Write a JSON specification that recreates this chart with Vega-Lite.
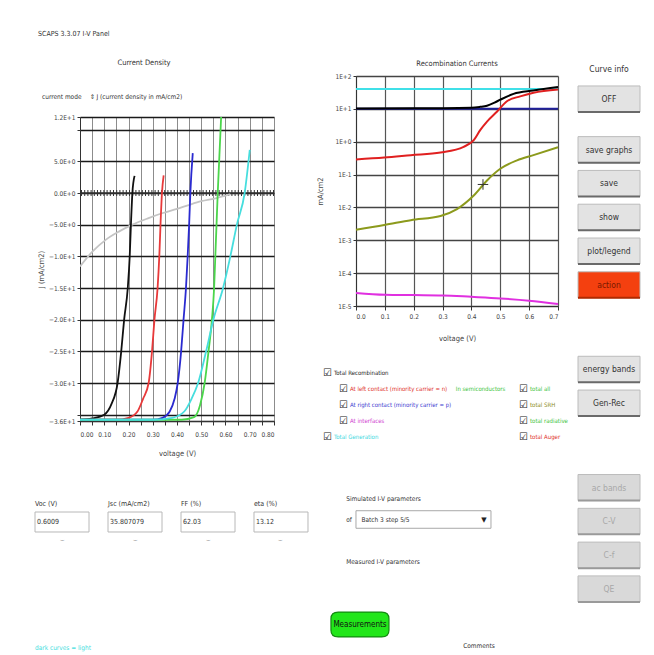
{
  "$schema": "https://vega.github.io/schema/vega-lite/v6.json",
  "background": "white",
  "padding": {"left": 33, "top": 29, "right": 0, "bottom": 0},
  "title": {"text": "SCAPS 3.3.07 I-V Panel", "anchor": "start", "fontSize": 7, "fontWeight": "normal", "color": "#333", "offset": 22, "dx": 5},
  "config": {
    "font": "DejaVu Sans Condensed, Liberation Sans, sans-serif",
    "view": {"stroke": null},
    "axis": {"labelFontSize": 6.5, "labelColor": "#444", "titleFontSize": 7.5, "titleFontWeight": "normal", "titleColor": "#444", "domainColor": "#333", "tickColor": "#333", "labelOverlap": false, "tickCount": 50},
    "title": {"fontSize": 7.5, "fontWeight": "normal", "color": "#333"}
  },
  "resolve": {"scale": {"color": "independent", "fill": "independent", "stroke": "independent"}},
  "spacing": 6,
  "hconcat": [
    {
      "bounds": "flush",
      "spacing": 20,
      "resolve": {"scale": {"color": "independent"}},
      "vconcat": [
        {
          "width": 194,
          "height": 21,
          "title": {"text": "Current Density", "frame": "group", "dx": -33, "offset": 10},
          "data": {"values": [
            {"item": "current mode", "col": 0},
            {"item": "\u21d5", "col": 3.0},
            {"item": "J (current density in mA/cm2)", "col": 3.4}
          ]},
          "mark": {"type": "text", "align": "left", "baseline": "middle", "fontSize": 6.5, "color": "#333"},
          "encoding": {
            "x": {"field": "col", "type": "quantitative", "scale": {"domain": [2.375, 14.5], "nice": false, "zero": false}, "axis": null},
            "y": {"datum": 3, "type": "ordinal", "scale": {"domain": [0, 1, 2, 3], "padding": 0}, "axis": null},
            "text": {"field": "item"}
          }
        },
        {
          "width": 194,
          "height": 304,
          "layer": [
            {
              "data": {"values": [{}]},
              "mark": {"type": "rule", "color": "#333", "strokeWidth": 1.5},
              "encoding": {"y": {"datum": 0}}
            },
            {
              "data": {"values": [{}]},
              "mark": {"type": "rule", "color": "#333", "strokeWidth": 6, "strokeDash": [1, 2.2]},
              "encoding": {"y": {"datum": 0}}
            },
            {
              "data": {"values": [
                {"curve": "dark", "v": 0, "j": -11.6}, {"curve": "dark", "v": 0.05, "j": -9.3}, {"curve": "dark", "v": 0.106, "j": -7.4}, {"curve": "dark", "v": 0.16, "j": -6.1}, {"curve": "dark", "v": 0.216, "j": -5.0}, {"curve": "dark", "v": 0.28, "j": -4.0}, {"curve": "dark", "v": 0.338, "j": -3.2}, {"curve": "dark", "v": 0.4, "j": -2.5}, {"curve": "dark", "v": 0.448, "j": -1.9}, {"curve": "dark", "v": 0.5, "j": -1.3}, {"curve": "dark", "v": 0.563, "j": -0.8}, {"curve": "dark", "v": 0.6, "j": -0.4}, {"curve": "dark", "v": 0.62, "j": -0.2},
                {"curve": "step 1", "v": 0, "j": -35.8}, {"curve": "step 1", "v": 0.05, "j": -35.6}, {"curve": "step 1", "v": 0.1, "j": -35.0}, {"curve": "step 1", "v": 0.13, "j": -33.3}, {"curve": "step 1", "v": 0.155, "j": -30}, {"curve": "step 1", "v": 0.17, "j": -25}, {"curve": "step 1", "v": 0.182, "j": -20}, {"curve": "step 1", "v": 0.197, "j": -15}, {"curve": "step 1", "v": 0.205, "j": -10}, {"curve": "step 1", "v": 0.21, "j": -5}, {"curve": "step 1", "v": 0.216, "j": 0}, {"curve": "step 1", "v": 0.225, "j": 2.7},
                {"curve": "step 2", "v": 0, "j": -35.8}, {"curve": "step 2", "v": 0.15, "j": -35.8}, {"curve": "step 2", "v": 0.2, "j": -35.5}, {"curve": "step 2", "v": 0.237, "j": -34.5}, {"curve": "step 2", "v": 0.26, "j": -32.5}, {"curve": "step 2", "v": 0.283, "j": -30}, {"curve": "step 2", "v": 0.297, "j": -25}, {"curve": "step 2", "v": 0.307, "j": -20}, {"curve": "step 2", "v": 0.32, "j": -15}, {"curve": "step 2", "v": 0.327, "j": -10}, {"curve": "step 2", "v": 0.332, "j": -5}, {"curve": "step 2", "v": 0.338, "j": 0}, {"curve": "step 2", "v": 0.345, "j": 2.8},
                {"curve": "step 3", "v": 0, "j": -35.8}, {"curve": "step 3", "v": 0.3, "j": -35.8}, {"curve": "step 3", "v": 0.34, "j": -35.5}, {"curve": "step 3", "v": 0.37, "j": -34.5}, {"curve": "step 3", "v": 0.39, "j": -32.5}, {"curve": "step 3", "v": 0.403, "j": -30}, {"curve": "step 3", "v": 0.417, "j": -25}, {"curve": "step 3", "v": 0.427, "j": -20}, {"curve": "step 3", "v": 0.437, "j": -15}, {"curve": "step 3", "v": 0.444, "j": -10}, {"curve": "step 3", "v": 0.45, "j": -5}, {"curve": "step 3", "v": 0.455, "j": 0}, {"curve": "step 3", "v": 0.465, "j": 6.3},
                {"curve": "step 4", "v": 0, "j": -35.8}, {"curve": "step 4", "v": 0.42, "j": -35.8}, {"curve": "step 4", "v": 0.47, "j": -35.4}, {"curve": "step 4", "v": 0.495, "j": -33.5}, {"curve": "step 4", "v": 0.514, "j": -30}, {"curve": "step 4", "v": 0.53, "j": -25}, {"curve": "step 4", "v": 0.544, "j": -20}, {"curve": "step 4", "v": 0.553, "j": -15}, {"curve": "step 4", "v": 0.558, "j": -10}, {"curve": "step 4", "v": 0.563, "j": -5}, {"curve": "step 4", "v": 0.568, "j": 0}, {"curve": "step 4", "v": 0.575, "j": 6}, {"curve": "step 4", "v": 0.582, "j": 12},
                {"curve": "step 5", "v": 0, "j": -35.8}, {"curve": "step 5", "v": 0.3, "j": -35.8}, {"curve": "step 5", "v": 0.38, "j": -35.5}, {"curve": "step 5", "v": 0.43, "j": -34.5}, {"curve": "step 5", "v": 0.46, "j": -32.5}, {"curve": "step 5", "v": 0.487, "j": -30}, {"curve": "step 5", "v": 0.52, "j": -25}, {"curve": "step 5", "v": 0.55, "j": -20}, {"curve": "step 5", "v": 0.59, "j": -15}, {"curve": "step 5", "v": 0.62, "j": -10}, {"curve": "step 5", "v": 0.647, "j": -5}, {"curve": "step 5", "v": 0.679, "j": 0}, {"curve": "step 5", "v": 0.7, "j": 6.8}
              ]},
              "mark": {"type": "line", "strokeWidth": 1.8, "interpolate": "monotone", "clip": true},
              "encoding": {
                "x": {"field": "v", "type": "quantitative", "scale": {"domain": [0, 0.8], "nice": false, "zero": false},
                  "axis": {"values": [0, 0.05, 0.1, 0.15, 0.2, 0.25, 0.3, 0.35, 0.4, 0.45, 0.5, 0.55, 0.6, 0.65, 0.7, 0.75, 0.8], "labelExpr": "round(datum.value*100) % 10 == 0 ? format(datum.value, '.2f') : ''", "grid": true, "gridColor": "#8c8c8c", "gridWidth": 1, "tickSize": 4, "labelPadding": 6, "title": "voltage (V)", "titlePadding": 12}},
                "y": {"field": "j", "type": "quantitative", "scale": {"domain": [-36, 12], "nice": false, "zero": false},
                  "axis": {"values": [-36, -35, -30, -25, -20, -15, -10, -5, 0, 5, 10, 12], "labelExpr": "datum.value == -35 || datum.value == 10 ? '' : upper(format(datum.value, '.1e'))", "grid": true, "gridColor": "#1a1a1a", "gridWidth": 1.3, "tickSize": 3, "labelPadding": 2, "title": "J (mA/cm2)", "titlePadding": 3}},
                "color": {"field": "curve", "type": "nominal", "scale": {"domain": ["dark", "step 1", "step 2", "step 3", "step 4", "step 5"], "range": ["#c4c4c4", "#111111", "#e8393a", "#2a2ad0", "#4bd64b", "#46dede"]}, "legend": null}
              }
            }
          ]
        },
        {
          "width": 194,
          "height": 216,
          "layer": [
            {
              "data": {"values": [
                {"label": "Voc (V)", "value": "0.6009", "col": 0},
                {"label": "Jsc (mA/cm2)", "value": "35.807079", "col": 1},
                {"label": "FF (%)", "value": "62.03", "col": 2},
                {"label": "eta (%)", "value": "13.12", "col": 3}
              ]},
              "layer": [
                {
                  "mark": {"type": "text", "align": "left", "baseline": "middle", "fontSize": 7, "color": "#333"},
                  "encoding": {
                    "x": {"field": "col", "type": "quantitative", "scale": {"domain": [0.6164, 3.274], "nice": false, "zero": false}, "axis": null},
                    "y": {"datum": 3, "type": "ordinal", "scale": {"domain": [0, 1, 2, 3, 4, 5, 6, 7, 8, 9, 10, 11]}, "axis": null},
                    "text": {"field": "label"}
                  }
                },
                {
                  "mark": {"type": "point", "shape": "M-1,-0.37H1V0.37H-1Z", "size": 2916, "filled": true, "opacity": 1, "fill": "white", "stroke": "#b8b8b8", "strokeWidth": 1, "xOffset": 27},
                  "encoding": {
                    "x": {"field": "col", "type": "quantitative", "scale": {"domain": [0.6164, 3.274], "nice": false, "zero": false}, "axis": null},
                    "y": {"datum": 4, "type": "ordinal", "scale": {"domain": [0, 1, 2, 3, 4, 5, 6, 7, 8, 9, 10, 11]}, "axis": null}
                  }
                },
                {
                  "mark": {"type": "text", "align": "left", "baseline": "middle", "fontSize": 7, "dx": 2, "color": "#333"},
                  "encoding": {
                    "x": {"field": "col", "type": "quantitative", "scale": {"domain": [0.6164, 3.274], "nice": false, "zero": false}, "axis": null},
                    "y": {"datum": 4, "type": "ordinal", "scale": {"domain": [0, 1, 2, 3, 4, 5, 6, 7, 8, 9, 10, 11]}, "axis": null},
                    "text": {"field": "value"}
                  }
                },
                {
                  "mark": {"type": "text", "text": "\u2323", "baseline": "middle", "fontSize": 7, "font": "DejaVu Sans", "color": "#aaa", "dx": 27},
                  "encoding": {
                    "x": {"field": "col", "type": "quantitative", "scale": {"domain": [0.6164, 3.274], "nice": false, "zero": false}, "axis": null},
                    "y": {"datum": 5, "type": "ordinal", "scale": {"domain": [0, 1, 2, 3, 4, 5, 6, 7, 8, 9, 10, 11]}, "axis": null}
                  }
                }
              ]
            },
            {
              "data": {"values": [{"label": "dark curves = light", "col": 0}]},
              "mark": {"type": "text", "align": "left", "baseline": "middle", "fontSize": 6.5, "color": "#46dede"},
              "encoding": {
                "x": {"field": "col", "type": "quantitative", "scale": {"domain": [0.6164, 3.274], "nice": false, "zero": false}, "axis": null},
                "y": {"datum": 11, "type": "ordinal", "scale": {"domain": [0, 1, 2, 3, 4, 5, 6, 7, 8, 9, 10, 11]}, "axis": null},
                "text": {"field": "label"}
              }
            }
          ]
        }
      ]
    },
    {
      "bounds": "flush",
      "spacing": 43,
      "resolve": {"scale": {"color": "independent"}},
      "vconcat": [
        {
          "width": 202,
          "height": 230,
          "title": {"text": "Recombination Currents", "offset": 6},
          "layer": [
            {
              "data": {"values": [
                {"curve": "Total Generation", "v": 0, "j": 40}, {"curve": "Total Generation", "v": 0.7, "j": 40},
                {"curve": "At right contact", "v": 0, "j": 10}, {"curve": "At right contact", "v": 0.7, "j": 10},
                {"curve": "Total Recombination", "v": 0, "j": 10.3}, {"curve": "Total Recombination", "v": 0.2, "j": 10.35}, {"curve": "Total Recombination", "v": 0.4, "j": 10.8}, {"curve": "Total Recombination", "v": 0.43, "j": 11.5}, {"curve": "Total Recombination", "v": 0.454, "j": 12.5}, {"curve": "Total Recombination", "v": 0.48, "j": 15.5}, {"curve": "Total Recombination", "v": 0.5, "j": 19}, {"curve": "Total Recombination", "v": 0.546, "j": 28.5}, {"curve": "Total Recombination", "v": 0.615, "j": 36}, {"curve": "Total Recombination", "v": 0.7, "j": 46},
                {"curve": "At left contact", "v": 0, "j": 0.29}, {"curve": "At left contact", "v": 0.098, "j": 0.33}, {"curve": "At left contact", "v": 0.19, "j": 0.39}, {"curve": "At left contact", "v": 0.293, "j": 0.47}, {"curve": "At left contact", "v": 0.373, "j": 0.7}, {"curve": "At left contact", "v": 0.408, "j": 1.12}, {"curve": "At left contact", "v": 0.431, "j": 2.3}, {"curve": "At left contact", "v": 0.454, "j": 4.1}, {"curve": "At left contact", "v": 0.489, "j": 8.3}, {"curve": "At left contact", "v": 0.523, "j": 17}, {"curve": "At left contact", "v": 0.569, "j": 24}, {"curve": "At left contact", "v": 0.615, "j": 31}, {"curve": "At left contact", "v": 0.7, "j": 39},
                {"curve": "In semiconductors", "v": 0, "j": 0.0021}, {"curve": "In semiconductors", "v": 0.098, "j": 0.0029}, {"curve": "In semiconductors", "v": 0.19, "j": 0.0041}, {"curve": "In semiconductors", "v": 0.293, "j": 0.0055}, {"curve": "In semiconductors", "v": 0.35, "j": 0.0089}, {"curve": "In semiconductors", "v": 0.408, "j": 0.023}, {"curve": "In semiconductors", "v": 0.454, "j": 0.066}, {"curve": "In semiconductors", "v": 0.5, "j": 0.15}, {"curve": "In semiconductors", "v": 0.558, "j": 0.27}, {"curve": "In semiconductors", "v": 0.615, "j": 0.39}, {"curve": "In semiconductors", "v": 0.7, "j": 0.68},
                {"curve": "At interfaces", "v": 0, "j": 0.000025}, {"curve": "At interfaces", "v": 0.1, "j": 0.000022}, {"curve": "At interfaces", "v": 0.2, "j": 0.0000215}, {"curve": "At interfaces", "v": 0.3, "j": 0.000021}, {"curve": "At interfaces", "v": 0.4, "j": 0.000019}, {"curve": "At interfaces", "v": 0.5, "j": 0.000017}, {"curve": "At interfaces", "v": 0.6, "j": 0.0000145}, {"curve": "At interfaces", "v": 0.7, "j": 0.0000115}
              ]},
              "mark": {"type": "line", "strokeWidth": 2, "interpolate": "monotone"},
              "encoding": {
                "x": {"field": "v", "type": "quantitative", "scale": {"domain": [0, 0.7], "nice": false, "zero": false},
                  "axis": {"values": [0, 0.1, 0.2, 0.3, 0.4, 0.5, 0.6, 0.7], "format": ".1f", "grid": true, "gridColor": "#555", "gridWidth": 1.2, "tickSize": 4, "labelPadding": 3, "title": "voltage (V)", "titlePadding": 15}},
                "y": {"field": "j", "type": "quantitative", "scale": {"type": "log", "domain": [0.00001, 100], "nice": false},
                  "axis": {"values": [0.00001, 0.0001, 0.001, 0.01, 0.1, 1, 10, 100], "labelExpr": "'1E' + (datum.value >= 1 ? '+' : '') + round(log(datum.value) / LN10)", "grid": true, "gridColor": "#444", "gridWidth": 1.3, "tickSize": 3, "labelPadding": 2, "title": "mA/cm2", "titlePadding": 10}},
                "color": {"field": "curve", "type": "nominal", "scale": {"domain": ["Total Generation", "At right contact", "Total Recombination", "At left contact", "In semiconductors", "At interfaces"], "range": ["#40e0e8", "#20209a", "#000000", "#e02020", "#8c9a1c", "#e030e0"]}, "legend": null}
              }
            },
            {
              "data": {"values": [{"v": 0.44, "j": 0.05}]},
              "mark": {"type": "point", "shape": "M-1,0H1M0,-1V1", "size": 110, "filled": false, "opacity": 1, "stroke": "#333", "strokeWidth": 1},
              "encoding": {
                "x": {"field": "v", "type": "quantitative"},
                "y": {"field": "j", "type": "quantitative"}
              }
            }
          ]
        },
        {
          "width": 202,
          "height": 96,
          "data": {"values": [
            {"label": "Total Recombination", "indent": 0, "row": 1, "box": true, "tone": "black"},
            {"label": "At left contact (minority carrier = n)", "indent": 1, "row": 2, "box": true, "tone": "red"},
            {"label": "In semiconductors", "indent": 8.3, "row": 2, "box": false, "tone": "green"},
            {"label": "total all", "indent": 12.25, "row": 2, "box": true, "tone": "green"},
            {"label": "At right contact (minority carrier = p)", "indent": 1, "row": 3, "box": true, "tone": "blue"},
            {"label": "total SRH", "indent": 12.25, "row": 3, "box": true, "tone": "olive"},
            {"label": "At interfaces", "indent": 1, "row": 4, "box": true, "tone": "magenta"},
            {"label": "total radiative", "indent": 12.25, "row": 4, "box": true, "tone": "green"},
            {"label": "Total Generation", "indent": 0, "row": 5, "box": true, "tone": "cyan"},
            {"label": "total Auger", "indent": 12.25, "row": 5, "box": true, "tone": "red"}
          ]},
          "layer": [
            {
              "transform": [{"filter": "datum.box"}],
              "mark": {"type": "text", "text": "\u2611", "align": "left", "baseline": "middle", "fontSize": 10, "font": "DejaVu Sans", "color": "#222"},
              "encoding": {
                "x": {"field": "indent", "type": "quantitative", "scale": {"domain": [2.0625, 14.6875], "nice": false, "zero": false}, "axis": null},
                "y": {"field": "row", "type": "ordinal", "scale": {"domain": [0, 1, 2, 3, 4, 5]}, "axis": null}
              }
            },
            {
              "transform": [{"filter": "datum.box"}],
              "mark": {"type": "text", "align": "left", "baseline": "middle", "fontSize": 6, "dx": 11},
              "encoding": {
                "x": {"field": "indent", "type": "quantitative", "scale": {"domain": [2.0625, 14.6875], "nice": false, "zero": false}, "axis": null},
                "y": {"field": "row", "type": "ordinal", "scale": {"domain": [0, 1, 2, 3, 4, 5]}, "axis": null},
                "text": {"field": "label"},
                "color": {"field": "tone", "type": "nominal", "scale": {"domain": ["black", "red", "green", "blue", "olive", "magenta", "cyan"], "range": ["#222222", "#e0302a", "#3cc43c", "#3c3cd0", "#8c8c1c", "#d040d0", "#40d8e0"]}, "legend": null}
              }
            },
            {
              "transform": [{"filter": "!datum.box"}],
              "mark": {"type": "text", "align": "left", "baseline": "middle", "fontSize": 6},
              "encoding": {
                "x": {"field": "indent", "type": "quantitative", "scale": {"domain": [2.0625, 14.6875], "nice": false, "zero": false}, "axis": null},
                "y": {"field": "row", "type": "ordinal", "scale": {"domain": [0, 1, 2, 3, 4, 5]}, "axis": null},
                "text": {"field": "label"},
                "color": {"field": "tone", "type": "nominal", "scale": {"domain": ["black", "red", "green", "blue", "olive", "magenta", "cyan"], "range": ["#222222", "#e0302a", "#3cc43c", "#3c3cd0", "#8c8c1c", "#d040d0", "#40d8e0"]}, "legend": null}
              }
            }
          ]
        },
        {
          "width": 202,
          "height": 168,
          "data": {"values": [
            {"item": "Simulated I-V parameters", "kind": "label", "col": 1.45, "row": 0},
            {"item": "of", "kind": "label", "col": 1.45, "row": 1},
            {"item": "Batch 3 step 5/5", "kind": "field", "col": 2.4, "row": 1},
            {"item": "Measured I-V parameters", "kind": "label", "col": 1.45, "row": 3},
            {"item": "Comments", "kind": "caption", "col": 9.75, "row": 7}
          ]},
          "layer": [
            {
              "data": {"values": [{"item": "dropdown", "col": 6.28, "row": 1}]},
              "mark": {"type": "point", "shape": "M-1,-0.13H1V0.13H-1Z", "size": 18225, "filled": true, "opacity": 1, "fill": "white", "stroke": "#a8a8a8", "strokeWidth": 1},
              "encoding": {
                "x": {"field": "col", "type": "quantitative", "scale": {"domain": [2.0625, 14.6875], "nice": false, "zero": false}, "axis": null},
                "y": {"field": "row", "type": "ordinal", "scale": {"domain": [0, 1, 2, 3, 4, 5, 6, 7]}, "axis": null}
              }
            },
            {
              "data": {"values": [{"item": "\u25bc", "col": 10.06, "row": 1}]},
              "mark": {"type": "text", "baseline": "middle", "fontSize": 7, "font": "DejaVu Sans", "color": "#222"},
              "encoding": {
                "x": {"field": "col", "type": "quantitative", "scale": {"domain": [2.0625, 14.6875], "nice": false, "zero": false}, "axis": null},
                "y": {"field": "row", "type": "ordinal", "scale": {"domain": [0, 1, 2, 3, 4, 5, 6, 7]}, "axis": null},
                "text": {"field": "item"}
              }
            },
            {
              "data": {"values": [{"item": "Measurements", "col": 2.31, "row": 6}]},
              "mark": {"type": "point", "shape": "M-0.75,-0.43H0.75Q1,-0.43 1,-0.2V0.2Q1,0.43 0.75,0.43H-0.75Q-1,0.43 -1,0.2V-0.2Q-1,-0.43 -0.75,-0.43Z", "size": 3364, "filled": true, "opacity": 1, "fill": "#22e61a", "stroke": "#138a10", "strokeWidth": 1.2},
              "encoding": {
                "x": {"field": "col", "type": "quantitative", "scale": {"domain": [2.0625, 14.6875], "nice": false, "zero": false}, "axis": null},
                "y": {"field": "row", "type": "ordinal", "scale": {"domain": [0, 1, 2, 3, 4, 5, 6, 7]}, "axis": null}
              }
            },
            {
              "data": {"values": [{"item": "Measurements", "col": 2.31, "row": 6}]},
              "mark": {"type": "text", "baseline": "middle", "fontSize": 8, "color": "#111"},
              "encoding": {
                "x": {"field": "col", "type": "quantitative", "scale": {"domain": [2.0625, 14.6875], "nice": false, "zero": false}, "axis": null},
                "y": {"field": "row", "type": "ordinal", "scale": {"domain": [0, 1, 2, 3, 4, 5, 6, 7]}, "axis": null},
                "text": {"field": "item"}
              }
            },
            {
              "transform": [{"filter": "datum.kind != 'caption'"}],
              "mark": {"type": "text", "align": "left", "baseline": "middle", "fontSize": 6.5, "color": "#333"},
              "encoding": {
                "x": {"field": "col", "type": "quantitative", "scale": {"domain": [2.0625, 14.6875], "nice": false, "zero": false}, "axis": null},
                "y": {"field": "row", "type": "ordinal", "scale": {"domain": [0, 1, 2, 3, 4, 5, 6, 7]}, "axis": null},
                "text": {"field": "item"}
              }
            },
            {
              "transform": [{"filter": "datum.kind == 'caption'"}],
              "mark": {"type": "text", "baseline": "middle", "fontSize": 6.5, "color": "#333"},
              "encoding": {
                "x": {"field": "col", "type": "quantitative", "scale": {"domain": [2.0625, 14.6875], "nice": false, "zero": false}, "axis": null},
                "y": {"field": "row", "type": "ordinal", "scale": {"domain": [0, 1, 2, 3, 4, 5, 6, 7]}, "axis": null},
                "text": {"field": "item"}
              }
            }
          ]
        }
      ]
    },
    {
      "width": 62,
      "height": 519,
      "title": {"text": "Curve info", "fontSize": 8.5, "offset": 3},
      "data": {"values": [
        {"label": "OFF", "state": "normal"},
        {"label": "save graphs", "state": "normal"},
        {"label": "save", "state": "normal"},
        {"label": "show", "state": "normal"},
        {"label": "plot/legend", "state": "normal"},
        {"label": "action", "state": "alert"},
        {"label": "energy bands", "state": "normal"},
        {"label": "Gen-Rec", "state": "normal"},
        {"label": "ac bands", "state": "disabled"},
        {"label": "C-V", "state": "disabled"},
        {"label": "C-f", "state": "disabled"},
        {"label": "QE", "state": "disabled"}
      ]},
      "layer": [
        {
          "mark": {"type": "point", "shape": "M-1,-0.42H1V0.42H-1Z", "size": 3844, "filled": true, "opacity": 1, "stroke": "#bcbcbc", "strokeWidth": 1},
          "encoding": {
            "y": {"field": "label", "type": "nominal", "scale": {"domain": [" 0", "OFF", " a", " b", "save graphs", " c", "save", " d", "show", " e", "plot/legend", " f", "action", " g", " h", " i", " j", "energy bands", " k", "Gen-Rec", " l", " m", " n", " o", "ac bands", " p", "C-V", " q", "C-f", " r", "QE"], "padding": 0.36}, "axis": null},
            "fill": {"field": "state", "type": "nominal", "scale": {"domain": ["normal", "alert", "disabled"], "range": ["#e3e3e3", "#f4400f", "#d9d9d9"]}, "legend": null}
          }
        },
        {
          "mark": {"type": "point", "shape": "M-1,0.42H1", "size": 3844, "filled": false, "opacity": 1, "strokeWidth": 2},
          "encoding": {
            "y": {"field": "label", "type": "nominal", "scale": {"domain": [" 0", "OFF", " a", " b", "save graphs", " c", "save", " d", "show", " e", "plot/legend", " f", "action", " g", " h", " i", " j", "energy bands", " k", "Gen-Rec", " l", " m", " n", " o", "ac bands", " p", "C-V", " q", "C-f", " r", "QE"], "padding": 0.36}, "axis": null},
            "stroke": {"field": "state", "type": "nominal", "scale": {"domain": ["normal", "alert", "disabled"], "range": ["#6a6a6a", "#b02a00", "#9a9a9a"]}, "legend": null}
          }
        },
        {
          "mark": {"type": "text", "baseline": "middle", "fontSize": 8.5},
          "encoding": {
            "y": {"field": "label", "type": "nominal", "scale": {"domain": [" 0", "OFF", " a", " b", "save graphs", " c", "save", " d", "show", " e", "plot/legend", " f", "action", " g", " h", " i", " j", "energy bands", " k", "Gen-Rec", " l", " m", " n", " o", "ac bands", " p", "C-V", " q", "C-f", " r", "QE"], "padding": 0.36}, "axis": null},
            "text": {"field": "label"},
            "color": {"field": "state", "type": "nominal", "scale": {"domain": ["normal", "alert", "disabled"], "range": ["#333333", "#7a1800", "#a8a8a8"]}, "legend": null}
          }
        }
      ]
    }
  ]
}
